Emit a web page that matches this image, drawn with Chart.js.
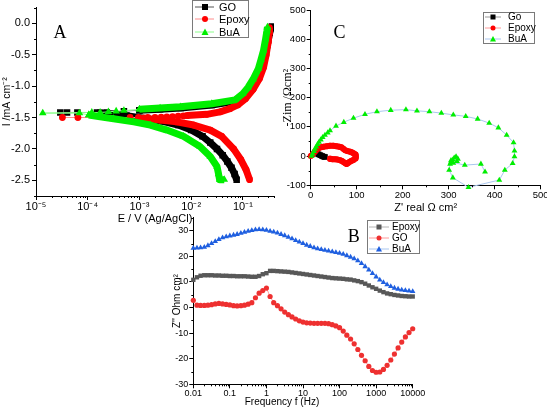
<!DOCTYPE html>
<html><head><meta charset="utf-8">
<title>Tafel, Nyquist and Bode charts</title>
<script src="https://cdn.jsdelivr.net/npm/chart.js@4.4.1/dist/chart.umd.min.js"></script>
<style>
html,body{margin:0;padding:0;background:#fff;}
#wrap{position:relative;width:547px;height:408px;overflow:hidden;background:#fff;}
#wrap canvas{position:absolute;left:0;top:0;}
.lgbox{position:absolute;border:1px solid #7a7a7a;box-sizing:border-box;}
.lgtxt{position:absolute;font-family:"Liberation Sans",Arial,sans-serif;color:#000;white-space:nowrap;line-height:14px;}
.lgsym{position:absolute;overflow:visible;}
.letter{position:absolute;font-family:"Liberation Serif","Times New Roman",serif;font-size:18px;line-height:20px;transform:translate(-50%,-50%);color:#000;}
.axt{position:absolute;font-family:"Liberation Sans",Arial,sans-serif;color:#000;white-space:nowrap;transform:translate(-50%,-50%);line-height:12px;}
</style></head>
<body><div id="wrap">
<canvas id="cA" width="547" height="408" style="width:547px;height:408px"></canvas>
<canvas id="cC" width="547" height="408" style="width:547px;height:408px"></canvas>
<canvas id="cB" width="547" height="408" style="width:547px;height:408px"></canvas>
<div class="letter" style="left:60px;top:32px">A</div>
<div class="letter" style="left:339.5px;top:32px">C</div>
<div class="letter" style="left:353.7px;top:236px">B</div>
<div class="axt" style="left:282px;top:402px;font-size:10px">Frequency f (Hz)</div>
</div>
<script>
// ================= Panel A: Tafel (I vs E) =================
const aTicksX = [1e-5, 1e-4, 1e-3, 1e-2, 1e-1];
const aTicksY = [-2.5, -2.0, -1.5, -1.0, -0.5, 0.0];

const goLowerI = [0.0759,0.0692,0.0603,0.0501,0.0407,0.0316,0.0234,0.0166,0.0100,0.00562,0.00282,0.00120,0.000562,0.000316,0.000174];
const goLowerE = [-2.49,-2.40,-2.30,-2.20,-2.10,-2.00,-1.90,-1.80,-1.70,-1.62,-1.56,-1.51,-1.47,-1.445,-1.43];
const goMinI   = [0.000151,0.0000631,0.0000398,0.0000295,0.000234,0.000501];
const goMinE   = [-1.42,-1.42,-1.42,-1.42,-1.42,-1.40];
const goUpperI = [0.001,0.00251,0.00631,0.0251,0.0708,0.1,0.126,0.158,0.2,0.251,0.295,0.331,0.363];
const goUpperE = [-1.385,-1.37,-1.35,-1.30,-1.24,-1.15,-1.07,-0.95,-0.80,-0.58,-0.35,-0.15,-0.05];

const epLowerI = [0.135,0.115,0.0912,0.0661,0.0389,0.0234,0.0112,0.00525,0.00251,0.00120];
const epLowerE = [-2.49,-2.33,-2.17,-2.00,-1.80,-1.70,-1.62,-1.57,-1.54,-1.51];
const epMinI   = [0.000661,0.0000646,0.0000324,0.000955,0.00145,0.0020,0.00263,0.00339,0.00437,0.00562,0.00708];
const epMinE   = [-1.50,-1.50,-1.50,-1.50,-1.50,-1.50,-1.495,-1.49,-1.485,-1.48,-1.475];
const epUpperI = [0.00832,0.020,0.0363,0.0562,0.0794,0.112,0.158,0.209,0.251,0.282,0.309,0.324,0.327];
const epUpperE = [-1.47,-1.45,-1.41,-1.36,-1.30,-1.20,-1.05,-0.88,-0.70,-0.50,-0.30,-0.15,-0.07];

const buLowerI = [0.0437,0.0355,0.0339,0.0316,0.0234,0.0148,0.00708,0.00339,0.00162,0.000776,0.000316,0.000174,0.000105];
const buLowerE = [-2.49,-2.49,-2.40,-2.28,-2.12,-1.96,-1.80,-1.70,-1.62,-1.57,-1.52,-1.49,-1.46];
const buMinI   = [0.0000692,0.0000135,0.000120,0.000174,0.000251,0.000355,0.000501];
const buMinE   = [-1.43,-1.43,-1.42,-1.42,-1.41,-1.40,-1.39];
const buUpperI = [0.001,0.00251,0.00617,0.0251,0.0708,0.1,0.126,0.158,0.2,0.224,0.251,0.275,0.292,0.299];
const buUpperE = [-1.37,-1.35,-1.33,-1.28,-1.22,-1.12,-1.02,-0.89,-0.72,-0.58,-0.43,-0.25,-0.12,-0.06];

// ================= Panel C: Nyquist =================
const cTicksX = [0, 100, 200, 300, 400, 500];
const cTicksY = [-100, 0, 100, 200, 300, 400, 500];
const cGoX = [13,17,21,25,28,31];
const cGoY = [9,6,3,0,-2,-3];
const cEpX = [0,4,9,13,17,22,28,35,42,49,56,62,67,71,75,80,86,90,94,97,98,98,97,93,89,85,81,78,75,72,68,64,58,53,48,44,42];
const cEpY = [0,5,15,22,27,30,32,34,35,35,34,32,30,25,20,17,15,12,9,5,1,-4,-8,-13,-16,-19,-24,-27,-24,-21,-17,-14,-12,-11,-11,-10,-8];
const cBuX = [2,4,7,9,12,15,18,22,26,31,37,42,55,72,93,118,144,174,207,231,258,284,310,337,363,388,408,426,441,443,443,439,422,410,343,309,301,303,305,309,312,316,320,318,310,305,335,370,379];
const cBuY = [0,8,16,24,32,40,48,56,64,72,80,87,103,116,130,143,152,157,159,155,152,147,141,136,127,113,97,72,46,18,-2,-25,-48,-82,-107,-74,-48,-27,-15,-13,-6,-2,-10,-18,-24,-20,-31,-27,-54];

// ================= Panel B: Bode (Z'' vs f) =================
const bTicksX = [0.01, 0.1, 1, 10, 100, 1000, 10000];
const bTicksY = [-30, -20, -10, 0, 10, 20, 30];
const freq = [0.01,0.0126,0.0158,0.02,0.0251,0.0316,0.0398,0.0501,0.0631,0.0794,
  0.1,0.126,0.158,0.2,0.251,0.316,0.398,0.501,0.631,0.794,
  1,1.26,1.58,2,2.51,3.16,3.98,5.01,6.31,7.94,
  10,12.6,15.8,20,25.1,31.6,39.8,50.1,63.1,79.4,
  100,126,158,200,251,316,398,501,631,794,
  1000,1259,1585,1995,2512,3162,3981,5012,6310,7943,10000];
const bEpoxy = [10.8,11.8,12.4,12.6,12.6,12.6,12.5,12.5,12.4,12.4,
  12.3,12.3,12.2,12.2,12.2,12.1,12.0,12.0,12.3,13.0,
  13.4,14.3,14.3,14.2,14.1,14.0,13.9,13.7,13.5,13.3,
  13.1,12.9,12.7,12.5,12.3,12.1,11.9,11.7,11.5,11.4,
  11.3,11.2,11.0,10.9,10.6,10.3,9.9,9.3,8.6,7.9,
  7.3,6.6,6.0,5.5,5.2,4.9,4.7,4.5,4.4,4.3,4.3];
const bGO = [2.8,0.9,0.8,0.8,0.9,1.1,1.4,1.6,1.4,1.2,
  1.0,0.7,0.6,0.7,0.9,1.3,1.9,3.8,5.6,6.6,
  7.6,4.3,1.9,0.7,-0.5,-1.8,-2.8,-3.7,-4.5,-5.2,
  -5.7,-6.0,-6.1,-6.2,-6.2,-6.2,-6.2,-6.3,-6.7,-7.2,
  -7.9,-9.2,-10.8,-12.3,-14.2,-16.4,-18.7,-20.8,-23.0,-24.6,
  -25.3,-25.2,-24.2,-22.6,-20.5,-18.2,-15.8,-13.5,-11.5,-9.8,-8.3];
const bBuA = [23.2,23.3,23.4,23.6,24.2,25.0,25.8,26.6,27.3,27.7,
  28.0,28.3,28.6,29.0,29.4,29.8,30.1,30.4,30.5,30.4,
  30.2,29.8,29.5,29.1,28.6,28.1,27.5,26.9,26.2,25.6,
  25.0,24.4,23.9,23.4,23.0,22.7,22.4,22.1,21.8,21.5,
  21.2,20.8,20.3,19.7,19.1,18.3,17.2,16.0,14.7,13.3,
  12.0,10.8,9.8,8.9,8.2,7.6,7.2,6.9,6.7,6.5,6.3];

// ================= helpers =================
const SANS = '"Liberation Sans", Arial, sans-serif';
const SERIF = '"Liberation Serif", "Times New Roman", serif';
const SUP = {'-':'\u207B','0':'\u2070','1':'\u00B9','2':'\u00B2','3':'\u00B3','4':'\u2074','5':'\u2075','6':'\u2076','7':'\u2077','8':'\u2078','9':'\u2079'};
const sup = s => String(s).split('').map(c => SUP[c] || c).join('');

function pts(xs, ys) { return xs.map((x, i) => ({x: x, y: ys[i]})); }

const minorTicks = {
  id: 'minorTicks',
  afterDraw(chart, args, opts) {
    const ctx = chart.ctx;
    ctx.save();
    ctx.strokeStyle = '#000';
    ctx.lineWidth = 1;
    const sx = chart.scales.x, sy = chart.scales.y;
    (opts.x || []).forEach(v => {
      const p = Math.round(sx.getPixelForValue(v)) + 0.5;
      ctx.beginPath(); ctx.moveTo(p, sx.top); ctx.lineTo(p, sx.top + opts.len); ctx.stroke();
    });
    (opts.y || []).forEach(v => {
      const p = Math.round(sy.getPixelForValue(v)) + 0.5;
      ctx.beginPath(); ctx.moveTo(sy.right, p); ctx.lineTo(sy.right - opts.len, p); ctx.stroke();
    });
    ctx.restore();
  }
};

function axis(o) {
  return {
    type: o.type || 'linear', min: o.min, max: o.max, position: o.pos,
    border: {display: true, color: '#000', width: 1},
    grid: {display: true, drawOnChartArea: false, drawTicks: true, tickLength: 4, tickWidth: 1, color: '#000'},
    ticks: {autoSkip: false, maxRotation: 0, minRotation: 0, color: '#000', padding: o.tpad,
            font: {family: SANS, size: o.fs}, callback: (v) => o.fmt(v)},
    title: {display: !!o.title, text: o.title || '', color: '#000',
            font: {family: o.tfam || SANS, size: o.tfs || 10}, padding: o.tpadT || 0},
    afterBuildTicks: s => { s.ticks = o.ticks.map(v => ({value: v})); },
    afterFit: s => {
      if (o.pos === 'left') s.width = o.size; else s.height = o.size;
      s.paddingLeft = 0; s.paddingRight = 0; s.paddingTop = 0; s.paddingBottom = 0;
    }
  };
}

function logMinor(lo, hi, maxV) {
  const out = [];
  for (let d = lo; d < hi; d++) for (let k = 2; k <= 9; k++) { const v = k * Math.pow(10, d); if (v <= maxV) out.push(v); }
  return out;
}

const baseOpts = {
  responsive: false, animation: false, devicePixelRatio: 1, events: [],
  plugins: {legend: {display: false}, tooltip: {enabled: false}}
};

// ================= Chart A =================
function tafelSets(lowI, lowE, minI, minE, upI, upE, col, light, style, r, order) {
  const spI = [lowI[lowI.length - 1]].concat(minI, [upI[0]]);
  const spE = [lowE[lowE.length - 1]].concat(minE, [upE[0]]);
  const band = {showLine: true, borderColor: col, borderWidth: 7, backgroundColor: col, pointStyle: style,
                pointRadius: r, pointBorderWidth: 0, borderJoinStyle: 'round', order: order};
  return [
    Object.assign({data: pts(lowI, lowE)}, band),
    Object.assign({data: pts(upI, upE)}, band),
    {data: pts(spI, spE), showLine: true, borderColor: light, borderWidth: 1, backgroundColor: col,
     pointStyle: style, pointRadius: r, pointBorderWidth: 0, order: order + 0.5}
  ];
}

new Chart(document.getElementById('cA'), {
  type: 'scatter',
  data: {datasets: [].concat(
    tafelSets(goLowerI, goLowerE, goMinI, goMinE, goUpperI, goUpperE, '#000000', '#8a8a8a', 'rect', 4.6, 3),
    tafelSets(epLowerI, epLowerE, epMinI, epMinE, epUpperI, epUpperE, '#ff0000', '#ff8c8c', 'circle', 3.4, 2),
    tafelSets(buLowerI, buLowerE, buMinI, buMinE, buUpperI, buUpperE, '#00ee00', '#8cff8c', 'triangle', 4.4, 1)
  )},
  options: Object.assign({}, baseOpts, {
    layout: {padding: {left: 0, top: 7.6, right: 273, bottom: 178}},
    plugins: Object.assign({}, baseOpts.plugins, {
      minorTicks: {len: 2, x: logMinor(-5, 0, 0.4), y: [-2.75, -2.25, -1.75, -1.25, -0.75, -0.25, 0.25]}
    }),
    scales: {
      x: axis({type: 'logarithmic', min: 1e-5, max: 0.4, pos: 'bottom', ticks: aTicksX,
               fmt: v => '10' + sup(Math.round(Math.log10(v))), fs: 11, tpad: 0,
               title: 'E / V (Ag/AgCl)', tfs: 11, tpadT: {top: 0, bottom: 4}, size: 34}),
      y: axis({min: -2.75, max: 0.25, pos: 'left', ticks: aTicksY, fmt: v => v.toFixed(1), fs: 11, tpad: 2,
               title: 'I /mA cm\u207B\u00B2', tfs: 10.5, tpadT: {top: 0.5, bottom: 0}, size: 36})
    }
  }),
  plugins: [minorTicks]
});

// ================= Chart C =================
new Chart(document.getElementById('cC'), {
  type: 'scatter',
  data: {datasets: [
    {data: pts(cBuX, cBuY), showLine: true, borderColor: '#a9c6ee', borderWidth: 1, backgroundColor: '#00ee00',
     pointStyle: 'triangle', pointRadius: 3.4, pointBorderWidth: 0, order: 1, clip: false},
    {data: pts(cEpX, cEpY), showLine: true, borderColor: '#ff0000', borderWidth: 6, backgroundColor: '#ff0000',
     pointStyle: 'circle', pointRadius: 3, pointBorderWidth: 0, borderJoinStyle: 'round', order: 2, clip: false},
    {data: pts(cGoX, cGoY), showLine: true, borderColor: '#000000', borderWidth: 6, backgroundColor: '#000000',
     pointStyle: 'rect', pointRadius: 4, pointBorderWidth: 0, order: 3, clip: false}
  ]},
  options: Object.assign({}, baseOpts, {
    layout: {padding: {left: 280, top: 10, right: 6.3, bottom: 189.4}},
    plugins: Object.assign({}, baseOpts.plugins, {
      minorTicks: {len: 2, x: [50, 150, 250, 350, 450], y: [-50, 50, 150, 250, 350, 450]}
    }),
    scales: {
      x: axis({min: 0, max: 500, pos: 'bottom', ticks: cTicksX, fmt: v => String(v), fs: 9.5, tpad: 0,
               title: "Z' real \u03A9 cm\u00B2", tfs: 11, tpadT: {top: 0, bottom: 4}, size: 33.3}),
      y: axis({min: -100, max: 500, pos: 'left', ticks: cTicksY, fmt: v => String(v), fs: 9.5, tpad: 1,
               title: '-Zim /\u03A9cm\u00B2', tfam: SERIF, tfs: 12, tpadT: {top: 0.5, bottom: 0}, size: 30.7})
    }
  }),
  plugins: [minorTicks]
});

// ================= Chart B =================
new Chart(document.getElementById('cB'), {
  type: 'scatter',
  data: {datasets: [
    {data: pts(freq, bEpoxy), showLine: true, borderColor: '#b4b4b4', borderWidth: 1, backgroundColor: '#585858',
     pointStyle: 'rect', pointRadius: 3.1, pointBorderWidth: 0, order: 2, clip: false},
    {data: pts(freq, bGO), showLine: true, borderColor: '#ff9a9a', borderWidth: 1, backgroundColor: '#ee3030',
     pointStyle: 'circle', pointRadius: 2.6, pointBorderWidth: 0, order: 3, clip: false},
    {data: pts(freq, bBuA), showLine: true, borderColor: '#a9c6ee', borderWidth: 1, backgroundColor: '#1f5fe0',
     pointStyle: 'triangle', pointRadius: 3.2, pointBorderWidth: 0, order: 1, clip: false}
  ]},
  options: Object.assign({}, baseOpts, {
    layout: {padding: {left: 165, top: 217.9, right: 134.3, bottom: 0}},
    plugins: Object.assign({}, baseOpts.plugins, {
      minorTicks: {len: 2, x: logMinor(-2, 4, 10000), y: [-25, -15, -5, 5, 15, 25, 35]}
    }),
    scales: {
      x: axis({type: 'logarithmic', min: 0.01, max: 10000, pos: 'bottom', ticks: bTicksX, fmt: v => String(v), fs: 9, tpad: 0,
               title: '', size: 23.7}),
      y: axis({min: -30, max: 35, pos: 'left', ticks: bTicksY, fmt: v => String(v), fs: 9, tpad: 1,
               title: "Z'' Ohm cm\u00B2", tfs: 10, tpadT: {top: 6, bottom: 0}, size: 28.3})
    }
  }),
  plugins: [minorTicks]
});

// ================= HTML legends =================
function marker(shape, cx, cy, color, s) {
  if (shape === 'rect') return '<rect x="' + (cx - s / 2) + '" y="' + (cy - s / 2) + '" width="' + s + '" height="' + s + '" fill="' + color + '"/>';
  if (shape === 'circle') return '<circle cx="' + cx + '" cy="' + cy + '" r="' + (s / 2) + '" fill="' + color + '"/>';
  return '<polygon points="' + cx + ',' + (cy - s / 2 - 0.5) + ' ' + (cx - s / 2 - 0.5) + ',' + (cy + s / 2) + ' ' + (cx + s / 2 + 0.5) + ',' + (cy + s / 2) + '" fill="' + color + '"/>';
}
function addLegend(box, rows) {
  const wrap = document.getElementById('wrap');
  const b = document.createElement('div');
  b.className = 'lgbox';
  b.style.left = box.l + 'px'; b.style.top = box.t + 'px'; b.style.width = box.w + 'px'; b.style.height = box.h + 'px';
  wrap.appendChild(b);
  rows.forEach(r => {
    const w = box.x1 - box.x0;
    wrap.insertAdjacentHTML('beforeend',
      '<svg class="lgsym" style="left:' + box.x0 + 'px;top:' + (r.cy - 6) + 'px" width="' + w + '" height="12">' +
      '<line x1="0" y1="6" x2="' + w + '" y2="6" stroke="' + r.line + '" stroke-width="1"/>' +
      marker(r.shape, box.mx - box.x0, 6, r.color, box.ms) + '</svg>');
    const t = document.createElement('div');
    t.className = 'lgtxt';
    t.textContent = r.label;
    t.style.left = box.tx + 'px'; t.style.top = (r.cy - 7) + 'px'; t.style.fontSize = box.fs + 'px';
    wrap.appendChild(t);
  });
}
addLegend({l: 192, t: 0, w: 57, h: 37.5, x0: 195, x1: 214, mx: 205, tx: 219, fs: 11, ms: 6}, [
  {label: 'GO', cy: 6.5, line: '#555555', color: '#000000', shape: 'rect'},
  {label: 'Epoxy', cy: 19, line: '#ff8c8c', color: '#ff0000', shape: 'circle'},
  {label: 'BuA', cy: 31.5, line: '#8cff8c', color: '#00ee00', shape: 'triangle'}
]);
addLegend({l: 482.5, t: 12, w: 52, h: 32, x0: 485, x1: 501, mx: 493, tx: 508, fs: 10, ms: 5}, [
  {label: 'Go', cy: 16.5, line: '#9a9a9a', color: '#000000', shape: 'rect'},
  {label: 'Epoxy', cy: 27.5, line: '#ff9a9a', color: '#ff0000', shape: 'circle'},
  {label: 'BuA', cy: 38.5, line: '#a9c6ee', color: '#00ee00', shape: 'triangle'}
]);
addLegend({l: 367, t: 220, w: 53, h: 33.5, x0: 369, x1: 389, mx: 379, tx: 392, fs: 10, ms: 5}, [
  {label: 'Epoxy', cy: 226.5, line: '#b4b4b4', color: '#585858', shape: 'rect'},
  {label: 'GO', cy: 237.5, line: '#ff9a9a', color: '#ee3030', shape: 'circle'},
  {label: 'BuA', cy: 248.5, line: '#a9c6ee', color: '#1f5fe0', shape: 'triangle'}
]);
</script>
</body></html>
